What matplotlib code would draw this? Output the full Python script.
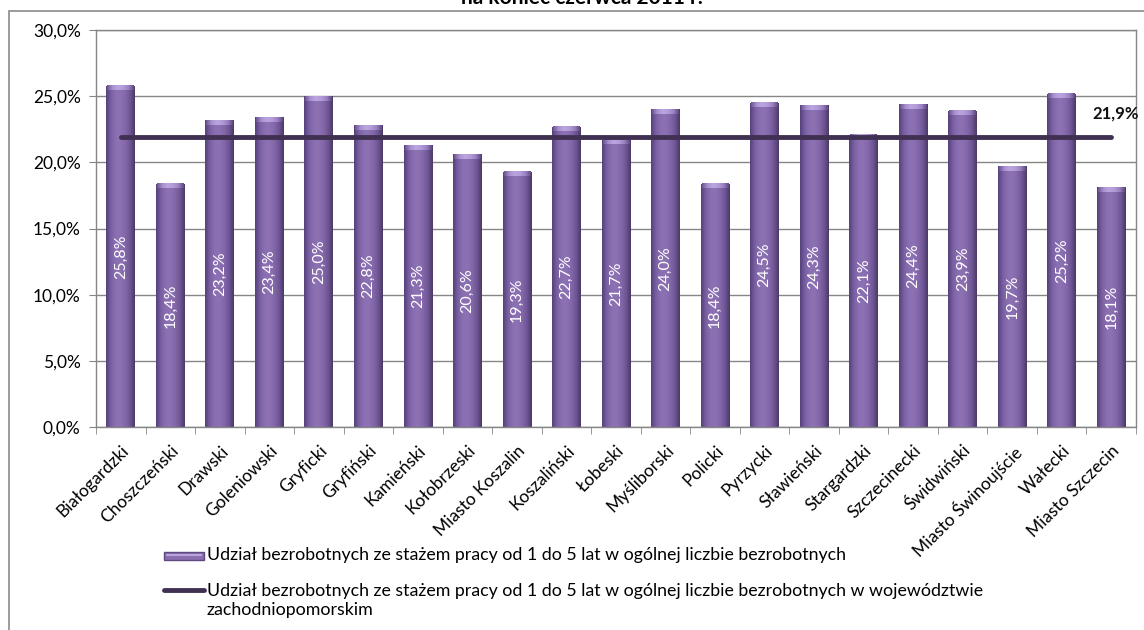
import numpy as np
import matplotlib
matplotlib.use("Agg")
import matplotlib.pyplot as plt
from matplotlib.patches import Rectangle
from matplotlib.lines import Line2D
from matplotlib.colors import LinearSegmentedColormap

# Share of unemployed with 1-5 years of work experience, by district (%)
districts = [
    "Białogardzki", "Choszczeński", "Drawski", "Goleniowski", "Gryficki",
    "Gryfiński", "Kamieński", "Kołobrzeski", "Miasto Koszalin", "Koszaliński",
    "Łobeski", "Myśliborski", "Policki", "Pyrzycki", "Sławieński",
    "Stargardzki", "Szczecinecki", "Świdwiński", "Miasto Świnoujście",
    "Wałecki", "Miasto Szczecin",
]
shares = [
    25.8, 18.4, 23.2, 23.4, 25.0,
    22.8, 21.3, 20.6, 19.3, 22.7,
    21.7, 24.0, 18.4, 24.5, 24.3,
    22.1, 24.4, 23.9, 19.7,
    25.2, 18.1,
]
regional_share = 21.9
y_ticks = [0, 5, 10, 15, 20, 25, 30]

bar_label = "Udział bezrobotnych ze stażem pracy od 1 do 5 lat w ogólnej liczbie bezrobotnych"
line_label = ("Udział bezrobotnych ze stażem pracy od 1 do 5 lat w ogólnej liczbie bezrobotnych "
              "w województwie\nzachodniopomorskim")
title = "na koniec czerwca 2011 r."


def pct(v):
    return f"{v:.1f}%".replace(".", ",")


plt.rcParams["font.family"] = ["Lato", "DejaVu Sans"]

W, H = 1144, 630
fig = plt.figure(figsize=(W / 100, H / 100), dpi=100)
ax = fig.add_axes([96 / W, 1 - 427 / H, (1136 - 96) / W, (427 - 30) / H])

x = np.arange(len(districts))
bar_w = 0.58
bars = ax.bar(x, shares, width=bar_w, color="#8468a9", edgecolor="none", zorder=2)

body_cmap = LinearSegmentedColormap.from_list(
    "body", ["#54417a", "#7a5fa2", "#8a6fb2", "#8c71b3", "#8367aa", "#6f5695", "#4a3966"])
cap_cmap = LinearSegmentedColormap.from_list(
    "cap", ["#6c5590", "#a890d0", "#bba6de", "#b39cd8", "#9c82c4", "#5e4a80"])
grad = np.linspace(0, 1, 128).reshape(1, -1)

for b in bars:
    x0, w, h = b.get_x(), b.get_width(), b.get_height()
    im = ax.imshow(grad, cmap=body_cmap, extent=(x0, x0 + w, 0, h),
                   aspect="auto", interpolation="bilinear", zorder=2.05)
    im.set_clip_path(b)
    cap_h = 0.35
    ax.imshow(grad, cmap=cap_cmap, extent=(x0 + 0.02, x0 + w - 0.02, h - cap_h, h),
              aspect="auto", interpolation="bilinear", zorder=2.1)
    ax.text(b.get_x() + w / 2, h / 2, pct(h), rotation=90, color="white",
            ha="center", va="center", fontsize=11.5, zorder=4)

# Regional average
ax.plot([x[0], x[-1]], [regional_share, regional_share], color="#403152",
        lw=3.5, solid_capstyle="round", zorder=3)
ax.text(x[-1] + 0.08, regional_share + 1.8, pct(regional_share), fontsize=12,
        fontweight="bold", ha="center", va="center", color="#111111", zorder=4)

ax.set_xlim(-0.5, len(districts) - 0.5)
ax.set_ylim(0, 30)
ax.set_yticks(y_ticks)
ax.set_yticklabels([pct(v) for v in y_ticks], fontsize=12.5)
ax.set_xticks(x)
ax.set_xticklabels(districts, rotation=45, ha="right", rotation_mode="anchor", fontsize=12.5)
ax.set_xticks(np.arange(-0.5, len(districts), 1), minor=True)
ax.tick_params(axis="x", which="major", length=0, pad=11)
ax.tick_params(axis="x", which="minor", length=5, direction="out", color="#868686")
ax.tick_params(axis="y", length=5, direction="out", color="#868686", pad=6)
ax.grid(axis="y", color="#868686", lw=1, zorder=1)
ax.set_axisbelow(True)
for s in ax.spines.values():
    s.set_color("#868686")
    s.set_linewidth(1)

# Chart frame and clipped title line
fig.add_artist(Rectangle((9 / W, -0.1), 1.2, (1 - 11 / H) + 0.1, transform=fig.transFigure,
                         fill=False, edgecolor="#8a8a8a", lw=1.2))
fig.text(582 / W, 1 - 3.5 / H, title, ha="center", va="baseline",
         fontsize=15, fontweight="bold")

# Legend
fig.add_artist(Rectangle((164 / W, 1 - 560 / H), 40 / W, 8 / H, transform=fig.transFigure,
                         facecolor="#8a6eb0", edgecolor="#5e4a80", lw=1))
fig.add_artist(Rectangle((166 / W, 1 - 556 / H), 36 / W, 2.5 / H, transform=fig.transFigure,
                         facecolor="#b9a4dc", edgecolor="none"))
fig.add_artist(Line2D([164 / W, 204 / W], [1 - 590 / H, 1 - 590 / H], transform=fig.transFigure,
                      color="#403152", lw=3.5, solid_capstyle="round"))
fig.text(207 / W, 1 - 555 / H, bar_label, ha="left", va="center", fontsize=12.8)
fig.text(207 / W, 1 - 583 / H, line_label, ha="left", va="top", fontsize=12.8,
         linespacing=1.25)

fig.savefig("out.png", dpi=100)
